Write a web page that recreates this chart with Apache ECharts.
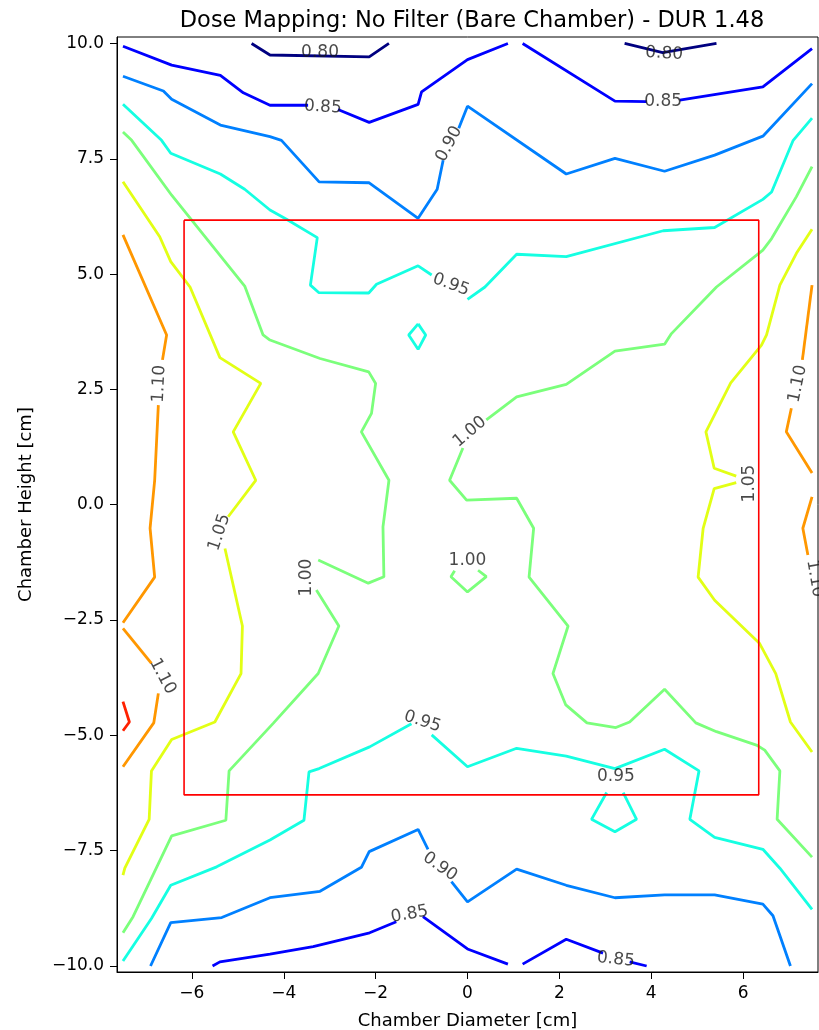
<!DOCTYPE html>
<html>
<head>
<meta charset="utf-8">
<script src="https://cdn.jsdelivr.net/npm/echarts@6/dist/echarts.min.js"></script>
<style>
  html, body { margin: 0; padding: 0; background: #fff; }
  #chart { width: 819px; height: 1030px; }
</style>
</head>
<body>
<div id="chart"></div>
<script>
// contour polylines, [x, y] in cm, one array per level
const lines080 = [
  [[-4.70, 10.0], [-4.30, 9.75], [-2.14, 9.71], [-1.71, 10.0]],
  [[3.42, 10.0], [4.25, 9.80], [5.42, 10.0]]
]
const lines085 = [
  [[-7.5, 9.94], [-6.44, 9.53], [-5.38, 9.31], [-4.88, 8.93], [-4.30, 8.66], [-3.47, 8.66]],
  [[-2.82, 8.57], [-2.14, 8.29], [-1.075, 8.68], [-1.00, 8.95], [0, 9.65], [0.88, 10.0]],
  [[1.20, 10.0], [3.21, 8.75], [3.90, 8.74]],
  [[4.62, 8.77], [6.43, 9.06], [7.5, 9.89]],
  [[-5.55, -10.0], [-5.39, -9.91], [-4.30, -9.74], [-3.36, -9.58], [-2.13, -9.28], [-1.55, -9.04]],
  [[-0.97, -8.93], [0, -9.63], [0.88, -9.96]],
  [[1.20, -9.96], [2.15, -9.42], [2.95, -9.72]],
  [[3.53, -9.91], [3.90, -10.0]]
]
const lines090 = [
  [[-7.5, 9.29], [-6.62, 8.97], [-6.44, 8.79], [-5.38, 8.23], [-4.30, 7.98], [-4.05, 7.90], [-3.23, 7.00],
    [-2.14, 6.98], [-1.075, 6.21], [-0.66, 6.84], [-0.53, 7.47]],
  [[-0.19, 8.16], [0, 8.64], [2.15, 7.17], [3.21, 7.51], [4.29, 7.23], [5.38, 7.58], [6.43, 7.99], [7.5, 9.13]],
  [[-6.90, -10.0], [-6.46, -9.06], [-5.35, -8.95], [-4.30, -8.52], [-3.21, -8.38], [-2.31, -7.86],
    [-2.14, -7.52], [-1.075, -7.04], [-0.86, -7.47]],
  [[-0.35, -8.17], [0, -8.61], [1.07, -7.90], [2.15, -8.25], [3.21, -8.52], [4.29, -8.46], [5.38, -8.46],
    [6.43, -8.66], [6.65, -8.91], [7.03, -10.0]]
]
const lines095 = [
  [[-7.5, 8.68], [-6.66, 7.90], [-6.46, 7.62], [-5.38, 7.17], [-4.85, 6.84], [-4.30, 6.39], [-3.94, 6.19],
    [-3.27, 5.79], [-3.42, 4.76], [-3.24, 4.60], [-2.15, 4.59], [-1.98, 4.78], [-1.075, 5.18], [-0.78, 4.98]],
  [[0, 4.45], [0.38, 4.72], [1.07, 5.43], [2.15, 5.38], [4.26, 5.94], [5.38, 6.01], [6.43, 6.62], [6.62, 6.78],
    [7.09, 7.90], [7.5, 8.38]],
  [[-1.075, 3.92], [-0.91, 3.68], [-1.075, 3.37], [-1.28, 3.68], [-1.075, 3.92]],
  [[-7.5, -9.89], [-6.88, -8.97], [-6.46, -8.25], [-5.46, -7.85], [-4.30, -7.27], [-3.56, -6.84], [-3.45, -5.79],
    [-3.23, -5.72], [-2.13, -5.25], [-1.22, -4.75]],
  [[-0.78, -4.99], [0, -5.68], [1.07, -5.28], [2.15, -5.45], [3.21, -5.72], [4.29, -5.30], [5.04, -5.77],
    [4.84, -6.82], [5.38, -7.21], [6.43, -7.47], [6.80, -7.88], [7.5, -8.77]],
  [[3.03, -6.24], [2.70, -6.82], [3.21, -7.09], [3.68, -6.82], [3.39, -6.24]]
]
const lines100 = [
  [[-7.5, 8.08], [-7.31, 7.90], [-6.44, 6.71], [-4.85, 4.74], [-4.45, 3.68], [-4.30, 3.57], [-3.21, 3.17],
    [-2.15, 2.88], [-2.00, 2.63], [-2.09, 1.98], [-2.31, 1.58], [-1.71, 0.53], [-1.84, -0.48], [-1.82, -1.56],
    [-2.16, -1.70], [-3.25, -1.20]],
  [[-3.29, -1.85], [-2.80, -2.63], [-3.25, -3.66], [-4.23, -4.74], [-5.19, -5.77], [-5.26, -6.84],
    [-6.44, -7.18], [-7.28, -8.93], [-7.5, -9.28]],
  [[7.5, 7.33], [7.16, 6.68], [6.62, 5.77], [6.43, 5.52], [5.42, 4.72], [4.44, 3.71], [4.29, 3.48],
    [3.21, 3.33], [2.15, 2.61], [1.07, 2.34], [0.41, 1.84]],
  [[-0.10, 1.23], [-0.39, 0.53], [-0.02, 0.10], [1.07, 0.14], [1.44, -0.51], [1.34, -1.57], [2.19, -2.63],
    [1.86, -3.66], [2.14, -4.34], [2.60, -4.73], [3.23, -4.83], [3.53, -4.71], [4.29, -4.00], [4.97, -4.73],
    [5.42, -4.92], [6.29, -5.21], [6.47, -5.32], [6.80, -5.77], [6.74, -6.82], [7.5, -7.64]],
  [[-0.28, -1.43], [-0.36, -1.56], [0, -1.89], [0.41, -1.56], [0.23, -1.42]]
]
const lines105 = [
  [[-7.5, 7.00], [-6.70, 5.81], [-6.46, 5.27], [-6.04, 4.72], [-5.39, 3.19], [-4.50, 2.63], [-5.10, 1.58],
    [-4.61, 0.53], [-5.21, -0.26]],
  [[-5.28, -0.95], [-4.90, -2.63], [-4.93, -3.66], [-5.50, -4.71], [-6.44, -5.09], [-6.88, -5.77],
    [-6.93, -6.82], [-7.46, -7.88], [-7.5, -8.03]],
  [[7.5, 5.97], [7.16, 5.45], [6.80, 4.76], [6.51, 3.68], [6.40, 3.46], [5.73, 2.64], [5.19, 1.58],
    [5.37, 0.79], [5.85, 0.62]],
  [[5.85, 0.48], [5.37, 0.35], [5.13, -0.51], [5.02, -1.57], [5.38, -2.07], [6.36, -3.01], [6.71, -3.66],
    [7.03, -4.71], [7.5, -5.36]]
]
const lines110 = [
  [[-7.5, 5.85], [-6.55, 3.68], [-6.64, 3.14]],
  [[-6.73, 2.16], [-6.81, 0.53], [-6.91, -0.51], [-6.81, -1.57], [-7.5, -2.56]],
  [[-7.5, -2.68], [-6.88, -3.44]],
  [[-6.73, -4.09], [-6.83, -4.73], [-7.5, -5.68]],
  [[7.5, 4.76], [7.29, 3.14]],
  [[7.05, 2.09], [6.94, 1.58], [7.5, 0.69]],
  [[7.5, 0.17], [7.30, -0.51], [7.41, -1.09]]
]
const lines115 = [
  [[-7.5, -4.27], [-7.36, -4.71], [-7.5, -4.90]]
]

// inline labels: [x, y, text, rotation]
const contourLabels = [
  [-3.21, 9.80, '0.80', 0], [4.28, 9.78, '0.80', -3],
  [-3.15, 8.62, '0.85', -3], [4.26, 8.74, '0.85', 0],
  [-1.26, -8.88, '0.85', 10], [3.23, -9.86, '0.85', -6],
  [-0.40, 7.82, '0.90', 62], [-0.60, -7.85, '0.90', -35],
  [-0.36, 4.77, '0.95', -20], [-0.98, -4.70, '0.95', -18], [3.23, -5.90, '0.95', 0],
  [0.05, 1.58, '1.00', 40], [0, -1.20, '1.00', 0], [-3.50, -1.58, '1.00', 90],
  [-5.40, -0.60, '1.05', 72], [6.14, 0.46, '1.05', 90],
  [-6.71, 2.62, '1.10', 87], [-6.64, -3.72, '1.10', -62], [7.19, 2.62, '1.10', 78], [7.56, -1.60, '1.10', -80]
]

const levelNames = ['0.80', '0.85', '0.90', '0.95', '1.00', '1.05', '1.10', '1.15']
const levelLines = [lines080, lines085, lines090, lines095, lines100, lines105, lines110, lines115]
// jet colormap sampled at the contour levels
const levelColors = ['#000080', '#0000ff', '#0080ff', '#15ffe2', '#7bff7b', '#e2ff15', '#ff9700', '#ff2100']

// red box drawn on top: [xmin, xmax, ymin, ymax]
const boxBounds = [-6.17, 6.34, -6.29, 6.17]

const xTicks = [-6, -4, -2, 0, 2, 4, 6]
const yTicks = [-10, -7.5, -5, -2.5, 0, 2.5, 5, 7.5, 10]

const FONT = 'DejaVu Sans'
const minus = s => s.replace('-', '\u2212')

let series = []
levelLines.forEach((segs, i) => {
  segs.forEach(seg => {
    series.push({
      name: levelNames[i],
      type: 'line',
      data: seg,
      symbol: 'none',
      silent: true,
      lineStyle: { color: levelColors[i], width: 2.8 },
      z: 2
    })
  })
})

const b = boxBounds
series.push({
  type: 'line',
  data: [[b[0], b[3]], [b[1], b[3]], [b[1], b[2]], [b[0], b[2]], [b[0], b[3]]],
  symbol: 'none',
  silent: true,
  lineStyle: { color: '#ff0000', width: 1.6 },
  z: 3
})

series.push({
  type: 'scatter',
  symbolSize: 0,
  silent: true,
  clip: false,
  z: 4,
  data: contourLabels.map(l => ({
    value: [l[0], l[1]],
    label: {
      show: true,
      position: 'inside',
      formatter: l[2],
      rotate: l[3],
      fontFamily: FONT,
      fontSize: 17,
      color: '#1a1a1a'
    }
  }))
})

let myChart = echarts.init(document.getElementById('chart'), null, { renderer: 'canvas' })
myChart.setOption({
  animation: false,
  backgroundColor: '#ffffff',
  title: {
    text: 'Dose Mapping: No Filter (Bare Chamber) - DUR 1.48',
    left: 467,
    textAlign: 'center',
    top: 5,
    textStyle: { fontFamily: FONT, fontSize: 22.5, fontWeight: 'normal', color: '#000' }
  },
  grid: {
    left: 117,
    top: 37,
    width: 701,
    height: 935,
    outerBoundsMode: 'none',
    containLabel: false,
    show: true,
    borderColor: '#000',
    borderWidth: 1,
    backgroundColor: 'transparent'
  },
  xAxis: {
    type: 'value',
    min: -7.63,
    max: 7.63,
    name: 'Chamber Diameter [cm]',
    nameLocation: 'middle',
    nameGap: 40,
    nameTextStyle: { fontFamily: FONT, fontSize: 18, color: '#000' },
    axisLine: { show: true, onZero: false, lineStyle: { color: '#000', width: 1 } },
    axisTick: { show: true, length: 7, customValues: xTicks, lineStyle: { color: '#000' } },
    axisLabel: {
      customValues: xTicks,
      margin: 13,
      fontFamily: FONT,
      fontSize: 17,
      color: '#000',
      formatter: v => minus(String(v))
    },
    splitLine: { show: false }
  },
  yAxis: {
    type: 'value',
    min: -10.13,
    max: 10.14,
    name: 'Chamber Height [cm]',
    nameLocation: 'middle',
    nameGap: 82,
    nameTextStyle: { fontFamily: FONT, fontSize: 18, color: '#000' },
    axisLine: { show: true, onZero: false, lineStyle: { color: '#000', width: 1 } },
    axisTick: { show: true, length: 7, customValues: yTicks, lineStyle: { color: '#000' } },
    axisLabel: {
      customValues: yTicks,
      margin: 13,
      fontFamily: FONT,
      fontSize: 17,
      color: '#000',
      formatter: v => minus(v.toFixed(1))
    },
    splitLine: { show: false }
  },
  series: series
})
</script>
</body>
</html>
